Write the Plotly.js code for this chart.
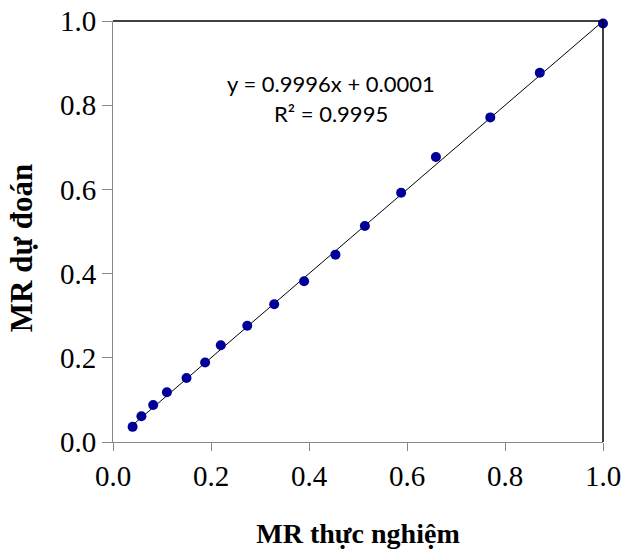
<!DOCTYPE html>
<html>
<head>
<meta charset="utf-8">
<script src="https://cdn.plot.ly/plotly-3.0.1.min.js"></script>
<style>html,body{margin:0;padding:0;background:#fff;}#chart{width:629px;height:552px;}</style>
</head>
<body>
<div id="chart"></div>
<script>
const mrExperimental = [0.040, 0.058, 0.082, 0.110, 0.150, 0.188, 0.220, 0.274, 0.329, 0.390, 0.454, 0.514, 0.588, 0.659, 0.770, 0.871, 1.000];
const mrPredicted    = [0.036, 0.061, 0.088, 0.118, 0.152, 0.189, 0.230, 0.276, 0.327, 0.382, 0.445, 0.513, 0.592, 0.677, 0.771, 0.877, 0.994];
const slope = 0.9996;
const intercept = 0.0001;
const tickVals = [0, 0.2, 0.4, 0.6, 0.8, 1.0];
const tickLabels = ['0.0', '0.2', '0.4', '0.6', '0.8', '1.0'];
const xTitle = 'MR thực nghiệm';
const yTitle = 'MR dự đoán';
const equationLine = 'y = 0.9996x + 0.0001';
const r2Line = 'R² = 0.9995';

const xMin = Math.min(...mrExperimental), xMax = Math.max(...mrExperimental);
const trendX = [xMin, xMax];
const trendY = trendX.map(v => slope * v + intercept);

const serif = 'Liberation Serif';
const sans = 'Lato';

const data = [
  {x: trendX, y: trendY, mode: 'lines', type: 'scatter', line: {color: '#000', width: 1}, hoverinfo: 'skip', showlegend: false, cliponaxis: false},
  {x: mrExperimental, y: mrPredicted, mode: 'markers', type: 'scatter', marker: {color: '#000099', size: 10}, showlegend: false, cliponaxis: false}
];

const layout = {
  width: 629, height: 552,
  font: {family: serif, size: 27, color: '#000'},
  margin: {l: 113, r: 26, t: 21, b: 110},
  paper_bgcolor: '#fff', plot_bgcolor: '#fff',
  xaxis: {
    range: [0, 1], tickmode: 'array', tickvals: tickVals, ticktext: tickLabels,
    showgrid: false, zeroline: false, showline: true, linecolor: '#888', linewidth: 1,
    ticks: 'outside', tickcolor: '#888', tickwidth: 1, ticklen: 8,
    tickfont: {family: serif, size: 29, color: '#000'},
    title: {text: '<b>' + xTitle + '</b>', font: {family: serif, size: 28, color: '#000'}, standoff: 32}
  },
  yaxis: {
    range: [0, 1], tickmode: 'array', tickvals: tickVals, ticktext: tickLabels,
    showgrid: false, zeroline: false, showline: true, linecolor: '#888', linewidth: 1,
    ticks: 'outside', tickcolor: '#888', tickwidth: 1, ticklen: 10,
    tickfont: {family: serif, size: 29, color: '#000'}
  },
  shapes: [
    {type: 'line', xref: 'paper', yref: 'paper', x0: 0, x1: 1, y0: 1, y1: 1, line: {color: '#000', width: 1.5}},
    {type: 'line', xref: 'paper', yref: 'paper', x0: 1, x1: 1, y0: 0, y1: 1, line: {color: '#000', width: 1.5}}
  ],
  annotations: [
    {text: '<b>' + yTitle + '</b>', xref: 'paper', yref: 'paper', x: -0.188, y: 0.46, showarrow: false,
     textangle: -90, xanchor: 'center', yanchor: 'middle', font: {family: serif, size: 31, color: '#000'}},
    {text: equationLine, xref: 'paper', yref: 'paper', x: 0.4455, y: 0.852, showarrow: false,
     xanchor: 'center', yanchor: 'middle', font: {family: sans, size: 22, color: '#000'}},
    {text: r2Line, xref: 'paper', yref: 'paper', x: 0.4455, y: 0.781, showarrow: false,
     xanchor: 'center', yanchor: 'middle', font: {family: sans, size: 22, color: '#000'}}
  ]
};

Plotly.newPlot('chart', data, layout, {displayModeBar: false, staticPlot: true});
</script>
</body>
</html>
